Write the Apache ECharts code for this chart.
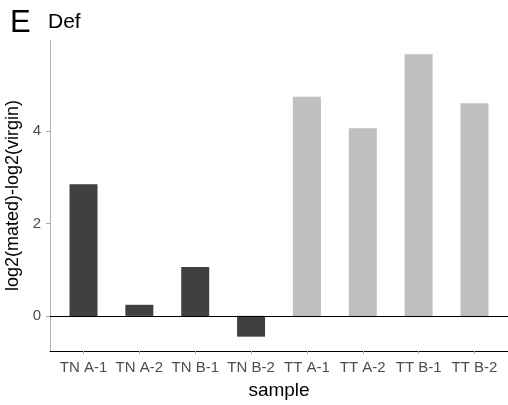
<!DOCTYPE html>
<html><head><meta charset="utf-8">
<script src="https://cdn.jsdelivr.net/npm/echarts@6/dist/echarts.min.js"></script>
<style>html,body{margin:0;padding:0;background:#fff}#c{width:508px;height:405px}</style>
</head><body><div id="c"></div>
<script>
const categories = ["TN A-1","TN A-2","TN B-1","TN B-2","TT A-1","TT A-2","TT B-1","TT B-2"];
const values = [2.85, 0.24, 1.06, -0.45, 4.74, 4.06, 5.66, 4.60];
const groups = ["TN","TN","TN","TN","TT","TT","TT","TT"];
const groupColors = {TN: "#404040", TT: "#bfbfbf"};
const yTicks = [0, 2, 4];
const font = "Liberation Sans, Arial, sans-serif";

const positions = categories.map((c, i) => i + 1);
const chart = echarts.init(document.getElementById('c'), null, {renderer: 'canvas'});
chart.setOption({
  animation: false,
  backgroundColor: '#fff',
  grid: {left: 50, right: 0, top: 40, bottom: 54, containLabel: false, outerBoundsMode: 'none'},
  graphic: [
    {type: 'text', left: 10, top: 8, style: {text: 'E', font: '31px ' + font, fill: '#000'}},
    {type: 'text', left: 48, top: 12, style: {text: 'Def', font: '21px ' + font, fill: '#000'}}
  ],
  xAxis: {
    type: 'value', min: 0.4, max: 8.6,
    name: 'sample', nameLocation: 'middle', nameGap: 30,
    nameTextStyle: {fontFamily: font, fontSize: 19, color: '#000'},
    axisLine: {show: true, onZero: false, lineStyle: {color: '#000', width: 1}},
    axisTick: {show: true, customValues: positions, length: 3, lineStyle: {color: '#aaa'}},
    axisLabel: {customValues: positions, fontFamily: font, fontSize: 15, color: '#4d4d4d', margin: 9,
      formatter: v => categories[Math.round(v) - 1] || ''},
    splitLine: {show: false}
  },
  yAxis: {
    type: 'value', min: -0.76, max: 5.97,
    name: 'log2(mated)-log2(virgin)', nameLocation: 'middle', nameGap: 22,
    nameTextStyle: {fontFamily: font, fontSize: 18, color: '#000'},
    axisLine: {show: true, lineStyle: {color: '#b0b0b0', width: 1}},
    axisTick: {show: true, customValues: yTicks, length: 4, lineStyle: {color: '#aaa'}},
    axisLabel: {customValues: yTicks, fontFamily: font, fontSize: 15, color: '#4d4d4d', margin: 9},
    splitLine: {show: false}
  },
  series: [{
    type: 'bar',
    barWidth: 28,
    data: values.map((v, i) => ({value: [positions[i], v], itemStyle: {color: groupColors[groups[i]]}})),
    markLine: {
      silent: true, symbol: 'none', label: {show: false},
      lineStyle: {color: '#000', width: 1, type: 'solid'},
      data: [{yAxis: 0}]
    }
  }]
});
</script></body></html>
